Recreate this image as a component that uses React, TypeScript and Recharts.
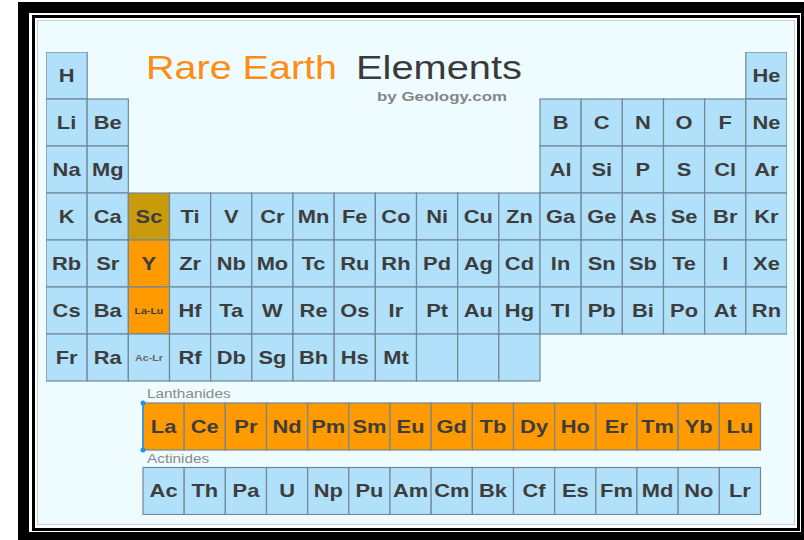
import React from 'react';
import { ScatterChart, Scatter, XAxis, YAxis, Customized } from 'recharts';

// ---------- data ----------
const mainRows: (string | null)[][] = [
  ['H', null, null, null, null, null, null, null, null, null, null, null, null, null, null, null, null, 'He'],
  ['Li', 'Be', null, null, null, null, null, null, null, null, null, null, 'B', 'C', 'N', 'O', 'F', 'Ne'],
  ['Na', 'Mg', null, null, null, null, null, null, null, null, null, null, 'Al', 'Si', 'P', 'S', 'Cl', 'Ar'],
  ['K', 'Ca', 'Sc', 'Ti', 'V', 'Cr', 'Mn', 'Fe', 'Co', 'Ni', 'Cu', 'Zn', 'Ga', 'Ge', 'As', 'Se', 'Br', 'Kr'],
  ['Rb', 'Sr', 'Y', 'Zr', 'Nb', 'Mo', 'Tc', 'Ru', 'Rh', 'Pd', 'Ag', 'Cd', 'In', 'Sn', 'Sb', 'Te', 'I', 'Xe'],
  ['Cs', 'Ba', 'La-Lu', 'Hf', 'Ta', 'W', 'Re', 'Os', 'Ir', 'Pt', 'Au', 'Hg', 'Tl', 'Pb', 'Bi', 'Po', 'At', 'Rn'],
  ['Fr', 'Ra', 'Ac-Lr', 'Rf', 'Db', 'Sg', 'Bh', 'Hs', 'Mt', '', '', '', null, null, null, null, null, null],
];
const lanthanides = ['La', 'Ce', 'Pr', 'Nd', 'Pm', 'Sm', 'Eu', 'Gd', 'Tb', 'Dy', 'Ho', 'Er', 'Tm', 'Yb', 'Lu'];
const actinides = ['Ac', 'Th', 'Pa', 'U', 'Np', 'Pu', 'Am', 'Cm', 'Bk', 'Cf', 'Es', 'Fm', 'Md', 'No', 'Lr'];
const fBlockLabels = ['Lanthanides', 'Actinides'];
const rareEarthSymbols = ['Y', 'La-Lu', ...lanthanides];
const scandiumSymbols = ['Sc'];
const smallSymbols = ['La-Lu', 'Ac-Lr'];
const titleParts = ['Rare Earth', 'Elements'];
const subtitle = 'by Geology.com';

type Cell = { symbol: string; col: number; row: number; kind: 'base' | 'ree' | 'sc'; label?: string };

const kindOf = (s: string): Cell['kind'] =>
  scandiumSymbols.includes(s) ? 'sc' : rareEarthSymbols.includes(s) ? 'ree' : 'base';

const mainData: Cell[] = [];
mainRows.forEach((r, ri) =>
  r.forEach((s, ci) => {
    if (s !== null) mainData.push({ symbol: s, col: ci + 1, row: ri + 1, kind: kindOf(s) });
  })
);
const fData: Cell[] = [lanthanides, actinides].flatMap((arr, ri) =>
  arr.map((s, ci) => ({
    symbol: s,
    col: ci + 1,
    row: ri + 1,
    kind: kindOf(s),
    label: ci === 0 ? fBlockLabels[ri] : undefined,
  }))
);

// ---------- layout ----------
const W = 804;
const H = 540;
const M = { top: 52, right: 17, bottom: 25, left: 46 };
const PW = W - M.left - M.right; // 741
const PH = H - M.top - M.bottom; // 463
const CELL_W = PW / 18;
const CELL_H = 47;
const F_ROW_STEP = 64.5;
const F_LEFT = 143;
const F_CENTER1 = 426.5;

const mainXDomain: [number, number] = [0.5, 18.5];
const mainYDomain: [number, number] = [0.5, 0.5 + PH / CELL_H];
const fXa = 0.5 - (F_LEFT - M.left) / CELL_W;
const fXDomain: [number, number] = [fXa, fXa + 18];
const fYa = 1 - (F_CENTER1 - M.top) / F_ROW_STEP;
const fYDomain: [number, number] = [fYa, fYa + PH / F_ROW_STEP];

const FILL = { base: '#b0e0fa', ree: '#ff9a00', sc: '#c99a0a' };
const FONT = '"Liberation Sans", Arial, Helvetica, sans-serif';
const SX = 1.25;

const CellShape = (props: any) => {
  const { cx, cy, payload } = props;
  if (cx == null || cy == null || !payload) return null;
  const p = payload as Cell;
  const x = cx - CELL_W / 2;
  const y = cy - CELL_H / 2;
  const small = smallSymbols.includes(p.symbol);
  return (
    <g>
      <rect x={x} y={y} width={CELL_W} height={CELL_H} fill={FILL[p.kind]} stroke="#71889a" strokeWidth={1.2} />
      {p.symbol && (
        <text
          transform={`translate(${cx},${cy}) scale(${SX},1)`}
          textAnchor="middle"
          dy="0.36em"
          fontFamily={FONT}
          fontWeight="bold"
          fontSize={small ? 8.5 : 17.5}
          fill={small && p.kind === 'base' ? '#666' : '#3d3d3d'}
        >
          {p.symbol}
        </text>
      )}
      {p.label && (
        <text
          transform={`translate(${x + 4},${y - 5}) scale(1.28,1)`}
          fontFamily={FONT}
          fontSize={12}
          fill="#8a8a8a"
        >
          {p.label}
        </text>
      )}
      {p.symbol === 'La' && (
        <g>
          <line x1={x} y1={y} x2={x} y2={y + CELL_H} stroke="#1e90ff" strokeWidth={1.5} />
          <circle cx={x} cy={y} r={2.5} fill="#1e90ff" />
          <circle cx={x} cy={y + CELL_H} r={2.5} fill="#1e90ff" />
        </g>
      )}
    </g>
  );
};

const Title = () => (
  <g>
    <text x={146} y={79} fontFamily={FONT} fontSize={34} fill="#ff8c14" textLength={191} lengthAdjust="spacingAndGlyphs">
      {titleParts[0]}
    </text>
    <text x={356} y={79} fontFamily={FONT} fontSize={34} fill="#3a3a3a" textLength={166} lengthAdjust="spacingAndGlyphs">
      {titleParts[1]}
    </text>
    <text x={377} y={101} fontFamily={FONT} fontSize={13} fontWeight="bold" fill="#858585" textLength={130} lengthAdjust="spacingAndGlyphs">
      {subtitle}
    </text>
  </g>
);

export default function App() {
  return (
    <div style={{ position: 'absolute', left: 0, top: 0, width: W, height: H, background: '#fff', overflow: 'hidden' }}>
      <div style={{ position: 'absolute', left: 18, top: 2, width: 794, height: 541, border: '11px solid #000', boxSizing: 'border-box' }} />
      <div style={{ position: 'absolute', left: 32, top: 15, width: 768, height: 516, border: '3px solid #000', boxSizing: 'border-box' }} />
      <div style={{ position: 'absolute', left: 37, top: 20, width: 758, height: 505, background: '#effcff', border: '1px solid #c6d0d4', boxSizing: 'border-box' }} />
      <div style={{ position: 'absolute', left: 0, top: 0 }}>
        <ScatterChart width={W} height={H} margin={M}>
          <XAxis xAxisId="main" type="number" dataKey="col" domain={mainXDomain} allowDataOverflow hide />
          <YAxis yAxisId="main" type="number" dataKey="row" domain={mainYDomain} reversed allowDataOverflow hide />
          <XAxis xAxisId="f" type="number" dataKey="col" domain={fXDomain} allowDataOverflow hide />
          <YAxis yAxisId="f" type="number" dataKey="row" domain={fYDomain} reversed allowDataOverflow hide />
          <Scatter data={mainData} xAxisId="main" yAxisId="main" shape={CellShape} isAnimationActive={false} />
          <Scatter data={fData} xAxisId="f" yAxisId="f" shape={CellShape} isAnimationActive={false} />
          <Customized component={Title} />
        </ScatterChart>
      </div>
    </div>
  );
}
